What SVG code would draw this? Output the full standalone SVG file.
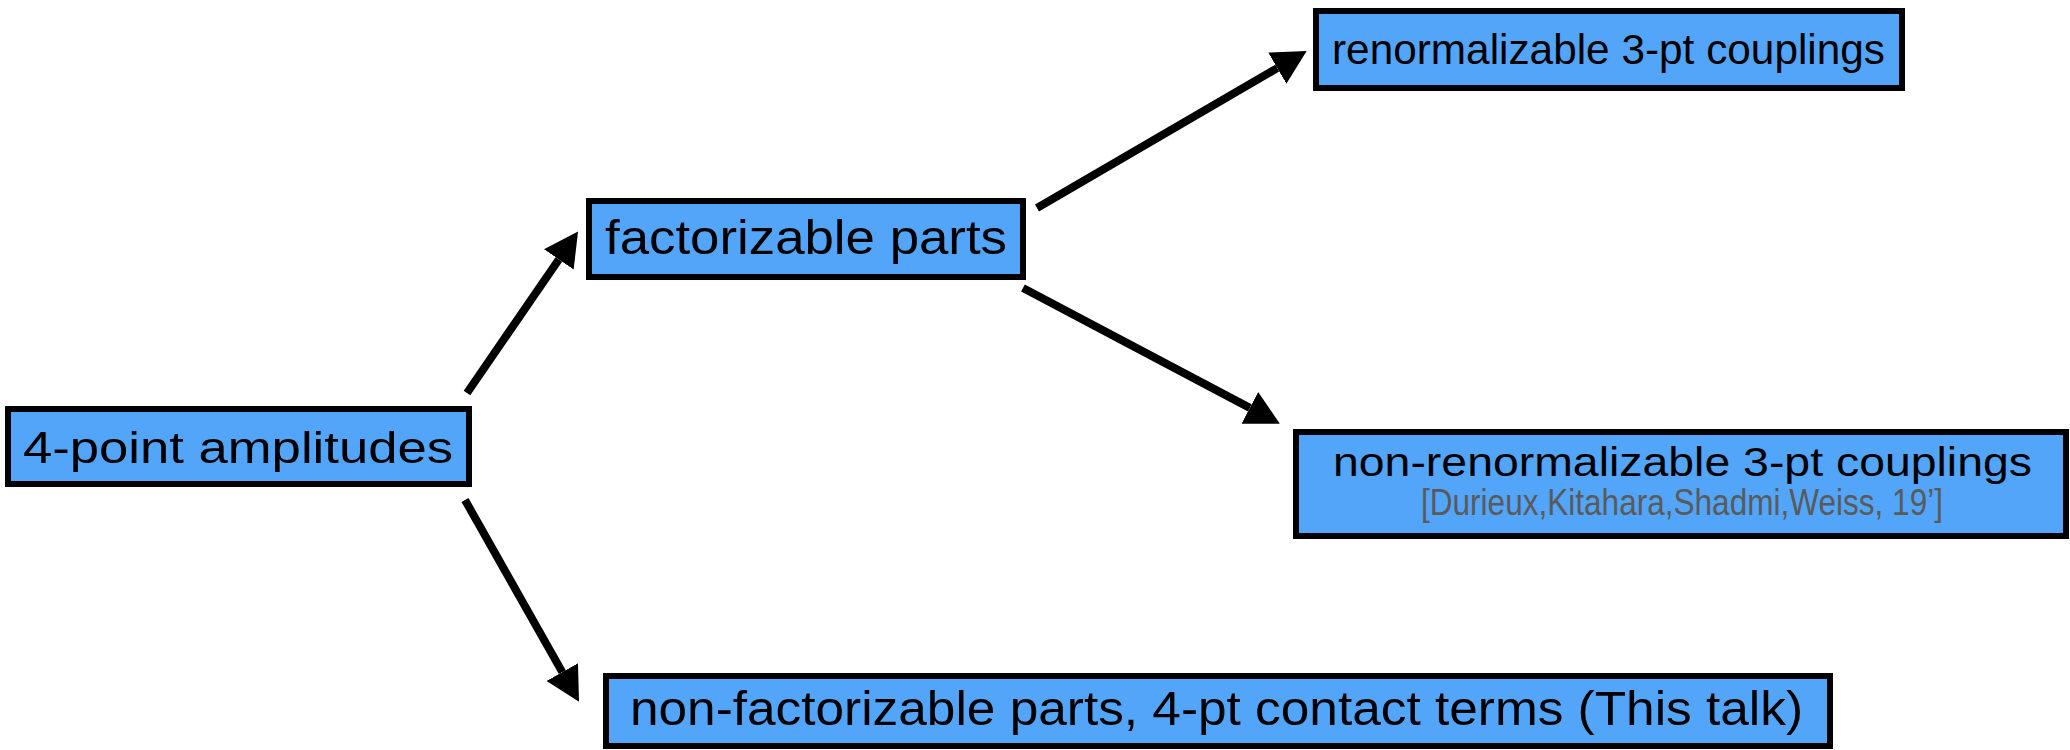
<svg xmlns="http://www.w3.org/2000/svg" width="2070" height="750" viewBox="0 0 2070 750">
<style>
.box{fill:#52a5f8;stroke:#000;stroke-width:6}
.t{font-family:"Liberation Sans",Arial,sans-serif;fill:#000}
.ref{font-family:"Liberation Sans",Arial,sans-serif;fill:#5a5a5a}
.arr{stroke:#000;stroke-width:8;fill:none;marker-end:url(#head)}
</style>
<defs>
<marker id="head" viewBox="0 0 34 36" refX="0" refY="18" markerWidth="34" markerHeight="36" orient="auto" markerUnits="userSpaceOnUse">
<path d="M0,0 L34,18 L0,36 z" fill="#000"/>
</marker>
</defs>
<rect width="2070" height="750" fill="#fff"/>
<g id="connectors">
<line class="arr" x1="467" y1="393" x2="558.8" y2="259.4"/>
<line class="arr" x1="1037" y1="208" x2="1277.3" y2="68.1"/>
<line class="arr" x1="1023" y1="288" x2="1249.8" y2="407.9"/>
<line class="arr" x1="465" y1="500" x2="562.3" y2="672.1"/>
</g>
<g id="n1">
<rect class="box" x="8" y="409" width="461" height="75"/>
<text class="t" x="23" y="463" font-size="44" textLength="430" lengthAdjust="spacingAndGlyphs">4-point amplitudes</text>
</g>
<g id="n2">
<rect class="box" x="589" y="201" width="434" height="76"/>
<text class="t" x="605" y="254" font-size="48" textLength="402" lengthAdjust="spacingAndGlyphs">factorizable parts</text>
</g>
<g id="n3">
<rect class="box" x="1316" y="11" width="586" height="77"/>
<text class="t" x="1332" y="64" font-size="43" textLength="553" lengthAdjust="spacingAndGlyphs">renormalizable 3-pt couplings</text>
</g>
<g id="n4">
<rect class="box" x="1296" y="432" width="770" height="104"/>
<text class="t" x="1333" y="476" font-size="40" textLength="699" lengthAdjust="spacingAndGlyphs">non-renormalizable 3-pt couplings</text>
<text class="ref" x="1421" y="515" font-size="37" textLength="522" lengthAdjust="spacingAndGlyphs">[Durieux,Kitahara,Shadmi,Weiss, 19’]</text>
</g>
<g id="n5">
<rect class="box" x="606" y="676" width="1224" height="70"/>
<text class="t" x="630" y="725" font-size="48" textLength="1173" lengthAdjust="spacingAndGlyphs">non-factorizable parts, 4-pt contact terms (This talk)</text>
</g>
</svg>
